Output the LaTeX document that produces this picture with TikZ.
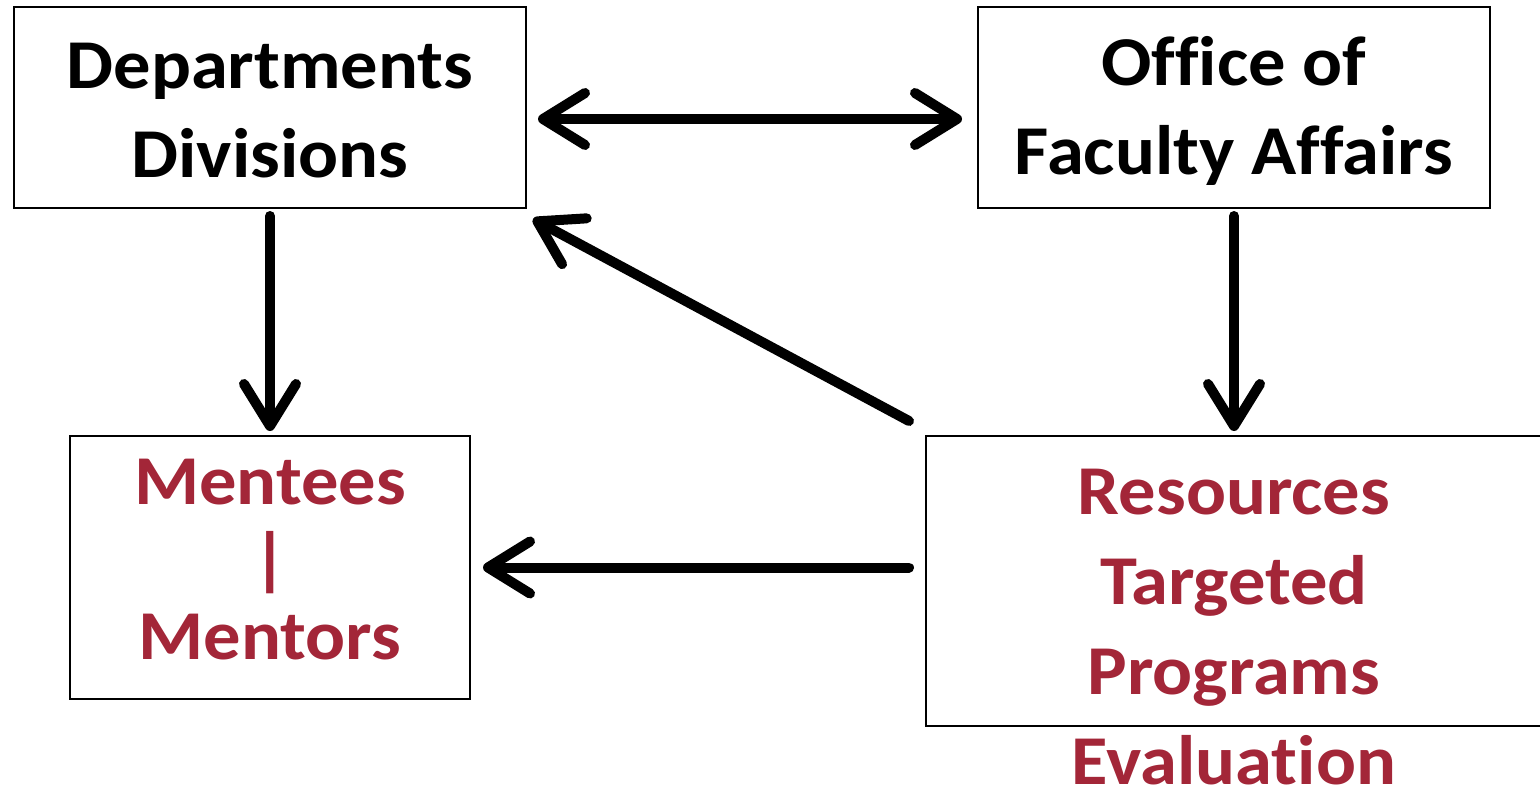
\documentclass[tikz,border=0pt]{standalone}
\usepackage{fontspec}
\setmainfont{Carlito}[FakeStretch=1.065, Ligatures={NoCommon}]
\usetikzlibrary{arrows.meta}
\definecolor{crim}{HTML}{A32638}
\begin{document}
\begin{tikzpicture}[x=1pt,y=-1pt,
  boxst/.style={draw=black, line width=2pt, inner sep=0pt, fill=white},
  txt/.style={inner sep=0pt, align=center, font=\fontsize{70}{89}\selectfont\bfseries},
  redtxt/.style={txt, text=crim},
  barb/.tip={Straight Barb[length=42pt, width=52pt, line cap=round, line join=round]},
  arr/.style={line width=10pt, line cap=round, -{barb}}]
\useasboundingbox (0,0) rectangle (1540,789);
% boxes
\node[boxst, minimum width=512pt, minimum height=201pt] (dept) at (270,107.5) {};
\node[boxst, minimum width=512pt, minimum height=201pt] (ofa) at (1234,107.5) {};
\node[boxst, minimum width=400pt, minimum height=263pt] (ment) at (270,567.5) {};
\node[boxst, minimum width=616pt, minimum height=290pt] (res) at (1234,581) {};
% texts
\node[txt] (depttxt) at (270,111) {Departments\\Divisions};
\node[txt] (ofatxt) at (1234,111) {Office of\\Faculty Affairs};
\node[redtxt, font=\fontsize{70}{77.5}\selectfont\bfseries] (menttxt) at (270,560) {Mentees\\|\\Mentors};
\node[redtxt, font=\fontsize{70}{90}\selectfont\bfseries] (restxt) at (1234,627) {Resources\\Targeted\\Programs\\Evaluation};
% arrows
\draw[arr, {barb}-{barb}]
  ([xshift=11pt,yshift=-11.5pt]dept.east) -- ([xshift=-15pt,yshift=-11.5pt]ofa.west);
\draw[arr] ([yshift=-7pt]dept.south) -- ([yshift=4pt]ment.north);
\draw[arr] ([yshift=-7pt]ofa.south) -- ([yshift=4pt]res.north);
\draw[arr] ([xshift=-16pt,yshift=14pt]res.north west) -- ([xshift=6pt,yshift=-10pt]dept.south east);
\draw[arr] ([xshift=-16pt]res.west |- ment.east) -- ([xshift=12pt]ment.east);
\end{tikzpicture}
\end{document}
